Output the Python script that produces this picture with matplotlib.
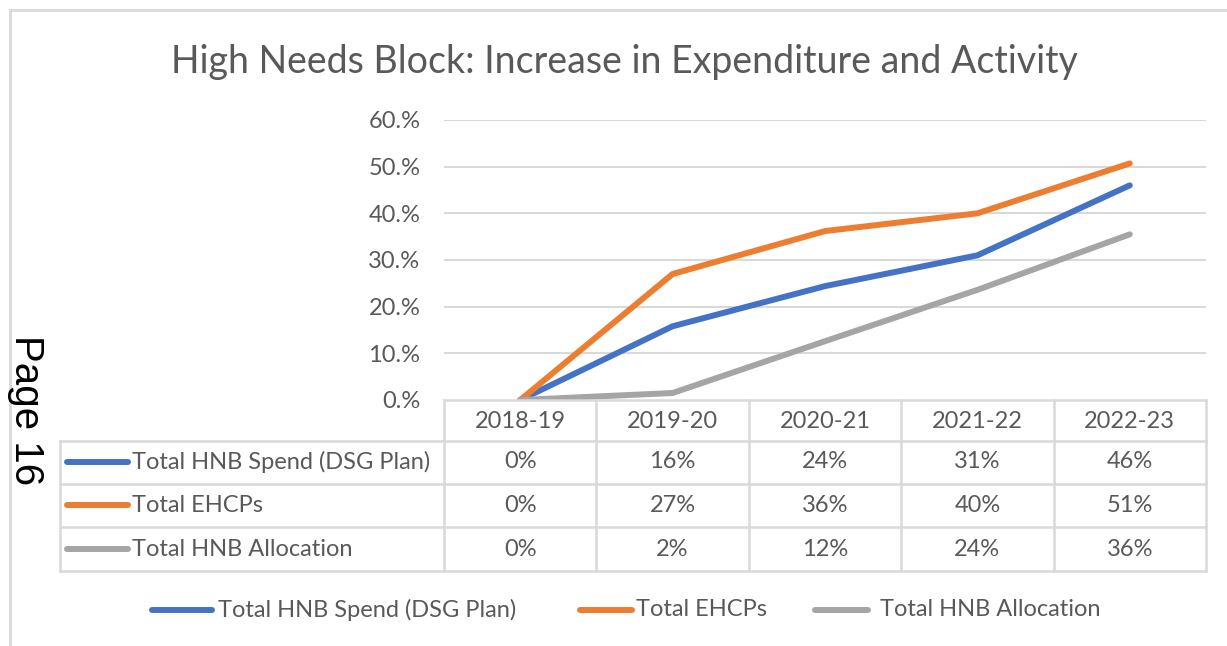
import matplotlib
matplotlib.use("Agg")
import matplotlib.pyplot as plt
from matplotlib.lines import Line2D
from matplotlib.transforms import blended_transform_factory

# data
years = ["2018-19", "2019-20", "2020-21", "2021-22", "2022-23"]
hnb_spend = [0.0, 15.8, 24.4, 31.0, 46.0]
ehcps = [0.0, 27.0, 36.2, 40.0, 50.7]
hnb_alloc = [0.0, 1.5, 12.6, 23.6, 35.5]
spend_lbl = ["0%", "16%", "24%", "31%", "46%"]
ehcps_lbl = ["0%", "27%", "36%", "40%", "51%"]
alloc_lbl = ["0%", "2%", "12%", "24%", "36%"]
series_names = ["Total HNB Spend (DSG Plan)", "Total EHCPs", "Total HNB Allocation"]
yticks = [0, 10, 20, 30, 40, 50, 60]

colors = ["#4472C4", "#ED7D31", "#A5A5A5"]
grid_c = "#D9D9D9"
text_c = "#595959"
FONT = "Lato"
FS = 17

W, H = 1227, 646
fig = plt.figure(figsize=(W / 100, H / 100), dpi=100)


def fx(x):
    return x / W


def fy(y):
    return 1 - y / H


# plot area
ax = fig.add_axes([fx(444), fy(400), fx(1206) - fx(444), fy(120) - fy(400)])
ax.set_xlim(-0.5, len(years) - 0.5)
ax.set_ylim(0, 60)
for s in ax.spines.values():
    s.set_visible(False)
ax.set_xticks([])
ax.set_yticks(yticks)
ax.set_yticklabels([f"{v}.%" for v in yticks], fontsize=FS, color=text_c, family=FONT)
ax.tick_params(axis="y", length=0, pad=17)
for v in yticks[1:]:
    ax.axhline(v, color=grid_c, lw=1.5, zorder=0)

xs = list(range(len(years)))
for vals, c in zip([hnb_spend, ehcps, hnb_alloc], colors):
    ax.plot(xs, vals, color=c, lw=4.3, solid_capstyle="round", solid_joinstyle="round", zorder=3)

# data table below the plot
tr = blended_transform_factory(ax.transData, fig.transFigure)
rows_y = [400, 441, 484, 527, 571]
lw_t = 1.8
# horizontal lines
fig.add_artist(Line2D([fx(444), fx(1206)], [fy(400)] * 2, color=grid_c, lw=lw_t))
for y in rows_y[1:]:
    fig.add_artist(Line2D([fx(60), fx(1206)], [fy(y)] * 2, color=grid_c, lw=lw_t))
# vertical lines
fig.add_artist(Line2D([fx(60), fx(60)], [fy(441), fy(571)], color=grid_c, lw=lw_t))
for i in range(len(years) + 1):
    fig.add_artist(Line2D([i - 0.5, i - 0.5], [fy(400), fy(571)], transform=tr,
                          color=grid_c, lw=lw_t))

for i, yr in enumerate(years):
    fig.text(i, fy(421), yr, transform=tr, ha="center", va="center",
             fontsize=FS, color=text_c, family=FONT)

row_centers = [462, 505, 549]
for r, (lbls, name, c) in enumerate(zip([spend_lbl, ehcps_lbl, alloc_lbl], series_names, colors)):
    yc = fy(row_centers[r])
    fig.add_artist(Line2D([fx(67), fx(128)], [yc, yc], color=c, lw=4.3, solid_capstyle="round"))
    fig.text(fx(132), yc, name, ha="left", va="center", fontsize=FS, color=text_c, family=FONT)
    for i, t in enumerate(lbls):
        fig.text(i, yc, t, transform=tr, ha="center", va="center",
                 fontsize=FS, color=text_c, family=FONT)

# legend
leg_items = [(152, 212, 218), (580, 632, 636), (815, 868, 880)]
for (x0, x1, xt), name, c in zip(leg_items, series_names, colors):
    yl = fy(610)
    fig.add_artist(Line2D([fx(x0), fx(x1)], [yl, yl], color=c, lw=4.3, solid_capstyle="round"))
    fig.text(fx(xt), yl, name, ha="left", va="center", fontsize=FS, color=text_c, family=FONT)

# title
fig.text(fx(624), fy(62), "High Needs Block: Increase in Expenditure and Activity",
         ha="center", va="center", fontsize=27, color=text_c, family=FONT)

# chart frame
fig.add_artist(Line2D([fx(10), fx(W)], [fy(10), fy(10)], color=grid_c, lw=2))
fig.add_artist(Line2D([fx(10), fx(10)], [fy(10), fy(H)], color=grid_c, lw=2))

# page number
fig.text(fx(26), fy(410), "Page 16", rotation=270, ha="center", va="center",
         fontsize=29, color="black", family="Liberation Sans")

fig.savefig("out.png", dpi=100)
